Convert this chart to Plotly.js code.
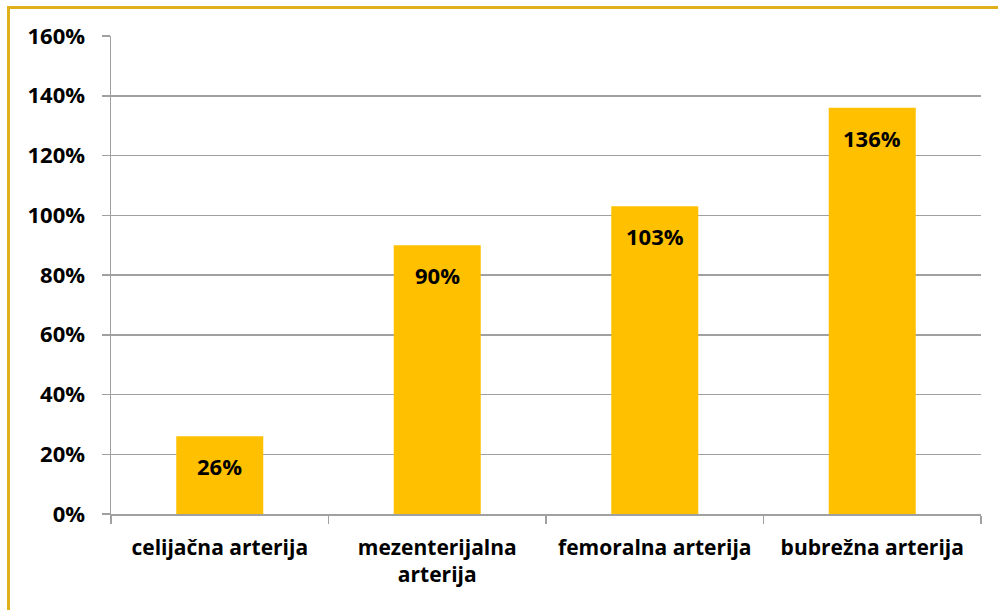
<!DOCTYPE html>
<html>
<head>
<meta charset="utf-8">
<script src="https://cdn.plot.ly/plotly-3.0.1.min.js"></script>
<style>
html,body{margin:0;padding:0;background:#fff;}
#wrap{position:relative;width:998px;height:610px;overflow:hidden;}
#chart{position:absolute;left:0;top:0;width:998px;height:610px;}
#frame{position:absolute;left:7px;top:6px;width:1000px;height:700px;border-left:3px solid #DDB01C;border-top:3px solid #DDB01C;pointer-events:none;}
</style>
</head>
<body>
<div id="wrap"><div id="chart"></div><div id="frame"></div></div>
<script>
const categories = ["celijačna arterija", "mezenterijalna<br>arterija", "femoralna arterija", "bubrežna arterija"];
const values = [0.26, 0.90, 1.03, 1.36];
const yTickVals = [0, 0.2, 0.4, 0.6, 0.8, 1.0, 1.2, 1.4, 1.6];

const font = "'Open Sans', sans-serif";

Plotly.newPlot('chart', [{
  type: 'bar',
  x: categories,
  y: values,
  marker: {color: '#FFC000'},
  width: 0.4,
  hoverinfo: 'none'
}], {
  width: 998, height: 610,
  margin: {l: 111, r: 17, t: 36, b: 96},
  paper_bgcolor: '#fff', plot_bgcolor: '#fff',
  showlegend: false,
  font: {family: font, size: 21, color: '#000', weight: 'bold'},
  annotations: categories.map((c, i) => ({
    x: c, y: values[i], xref: 'x', yref: 'y',
    text: Math.round(values[i] * 100) + '%',
    showarrow: false, yanchor: 'middle', yshift: -30,
    font: {family: font, size: 22, color: '#000', weight: 'bold'}
  })),
  xaxis: {
    type: 'category',
    showline: true, linecolor: '#A0A0A0', linewidth: 1.5,
    ticks: 'outside', tickson: 'boundaries', ticklen: 8, tickcolor: '#A0A0A0', tickwidth: 1.5,
    showgrid: false,
    tickfont: {family: font, size: 21, color: '#000', weight: 'bold'},
    ticklabelstandoff: 14
  },
  yaxis: {
    range: [0, 1.6],
    tickvals: yTickVals,
    tickformat: '.0%',
    showline: true, linecolor: '#A0A0A0', linewidth: 1.5,
    ticks: 'outside', ticklen: 8, tickcolor: '#A0A0A0', tickwidth: 1.5,
    showgrid: true, gridcolor: '#A0A0A0', gridwidth: 1.5,
    zeroline: false,
    tickfont: {family: font, size: 22, color: '#000', weight: 'bold'},
    ticklabelstandoff: 12
  }
}, {displayModeBar: false, staticPlot: true});
</script>
</body>
</html>
